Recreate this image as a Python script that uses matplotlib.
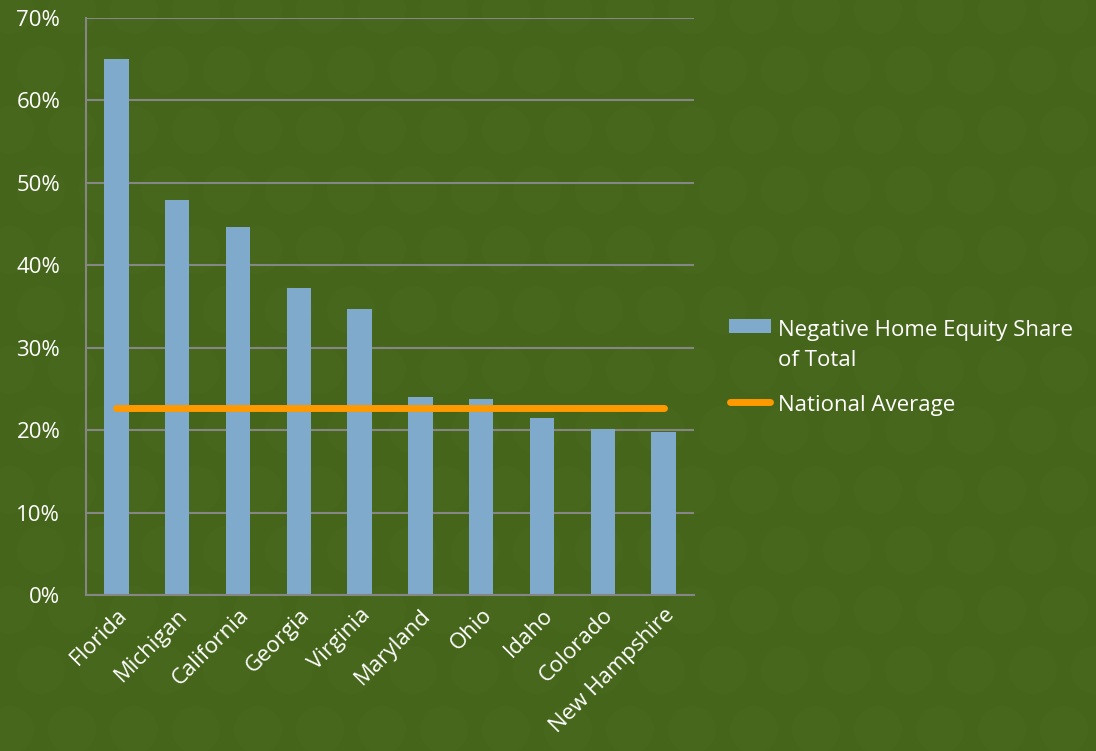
import matplotlib.pyplot as plt
import numpy as np
from matplotlib.patches import Circle, Rectangle
from matplotlib.lines import Line2D

states = ["Florida", "Michigan", "California", "Georgia", "Virginia",
          "Maryland", "Ohio", "Idaho", "Colorado", "New Hampshire"]
share = [65.0, 47.9, 44.7, 37.3, 34.7, 24.0, 23.8, 21.5, 20.1, 19.8]
national_avg = 22.7

bg = "#45661a"
bar_color = "#7faacc"
line_color = "#ff9900"
grid_color = "#868686"

plt.rcParams['font.family'] = ['Open Sans', 'DejaVu Sans']

W, H = 1096, 751
fig = plt.figure(figsize=(W / 100, H / 100), dpi=100, facecolor=bg)

# faint dotted texture, on its own pixel-scaled axes behind the chart
bg_ax = fig.add_axes([0, 0, 1, 1], zorder=-1)
bg_ax.set_xlim(0, W)
bg_ax.set_ylim(0, H)
bg_ax.axis("off")
for row in range(0, 13):
    for col in range(0, 19):
        cx = col * 62 + (31 if row % 2 else 0) + 10
        cy = H - row * 60 - 10
        bg_ax.add_patch(Circle((cx, cy), 24, facecolor="white", alpha=0.012,
                               edgecolor="none"))

ax = fig.add_axes([86 / W, 1 - 595 / H, 608 / W, 577 / H])
ax.set_facecolor("none")

x = np.arange(len(states))
ax.bar(x, share, width=0.4, color=bar_color, zorder=2)
ax.plot([x[0], x[-1]], [national_avg, national_avg], color=line_color,
        linewidth=5, solid_capstyle="round", zorder=3)

ax.set_xlim(-0.5, len(states) - 0.5)
ax.set_ylim(0, 70)
ax.set_yticks(range(0, 71, 10))
ax.set_yticklabels([f"{v}%" for v in range(0, 71, 10)])
ax.yaxis.grid(True, color=grid_color, linewidth=1.5, zorder=1)
ax.set_axisbelow(True)

ax.set_xticks(x)
ax.set_xticklabels(states, rotation=45, ha="right", rotation_mode="anchor")
ax.tick_params(axis="both", length=0, colors="white", labelsize=16)
ax.tick_params(axis="y", pad=18.5)
ax.tick_params(axis="x", pad=7)

for side in ["top", "right"]:
    ax.spines[side].set_visible(False)
for side in ["left", "bottom"]:
    ax.spines[side].set_color(grid_color)
    ax.spines[side].set_linewidth(1.5)

# legend drawn by hand so the swatch lines up with the first text line
fig.patches.append(Rectangle((729 / W, 1 - 333 / H), 42 / W, 14 / H,
                             transform=fig.transFigure, facecolor=bar_color,
                             edgecolor="none"))
fig.text(778 / W, 1 - 336 / H, "Negative Home Equity Share",
         color="white", fontsize=16, va="baseline")
fig.text(778 / W, 1 - 366 / H, "of Total",
         color="white", fontsize=16, va="baseline")
fig.lines.append(Line2D([730 / W, 770 / W], [1 - 402 / H, 1 - 402 / H],
                        transform=fig.transFigure, color=line_color,
                        linewidth=5, solid_capstyle="round"))
fig.text(778 / W, 1 - 411 / H, "National Average",
         color="white", fontsize=16, va="baseline")

plt.savefig("out.png", dpi=100, facecolor=bg)
